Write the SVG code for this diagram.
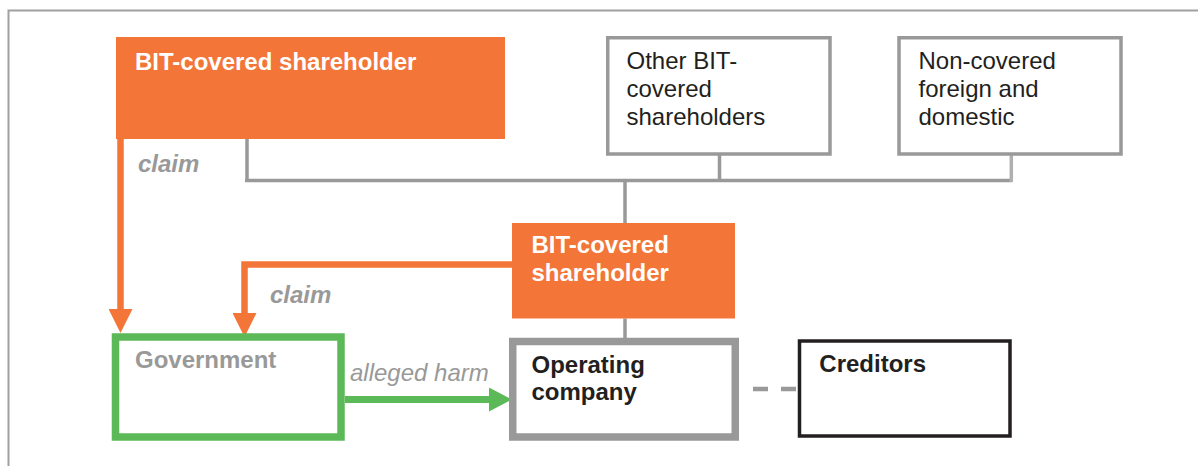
<svg xmlns="http://www.w3.org/2000/svg" width="1198" height="466" viewBox="0 0 1198 466">
  <defs>
    <style>
      text { font-family: "Liberation Sans", Arial, Helvetica, sans-serif; font-size: 24px; }
      .bold { font-weight: bold; }
      .white { fill: #ffffff; }
      .dark { fill: #231f20; }
      .gray { fill: #999999; }
      .orangeFill { fill: #f37537; }
      .grayBox { fill: #ffffff; stroke: #999999; stroke-width: 3.5; }
      .conn { fill: none; stroke: #999999; stroke-width: 3.5; }
      .orangeLine { fill: none; stroke: #f37537; stroke-width: 6.5; }
      .greenLine { fill: none; stroke: #5cb957; stroke-width: 7; }
    </style>
    <marker id="ahOrange" viewBox="0 0 24 24" markerWidth="24" markerHeight="24" markerUnits="userSpaceOnUse" refX="0" refY="12" orient="auto">
      <path d="M0,0 L24,12 L0,24 z" fill="#f37537"/>
    </marker>
    <marker id="ahGreen" viewBox="0 0 24 24" markerWidth="24" markerHeight="24" markerUnits="userSpaceOnUse" refX="0" refY="12" orient="auto">
      <path d="M0,0 L23,12 L0,24 z" fill="#5cb957"/>
    </marker>
  </defs>

  <rect width="1198" height="466" fill="#ffffff"/>
  <path d="M8.5,466 V10.5 H1198" fill="none" stroke="#a0a0a0" stroke-width="2"/>

  <g id="connectors">
    <path class="conn" d="M247,139 V180.5"/>
    <path class="conn" d="M245,180.5 H1012"/>
    <path class="conn" d="M719.5,155 V180.5"/>
    <path d="M1011.3,155 V182" fill="none" stroke="#b0b0b0" stroke-width="3.5"/>
    <path class="conn" d="M625,180.5 V223" stroke-width="3"/>
    <path class="conn" d="M625,318.5 V338" stroke-width="3"/>
    <path d="M753,389 H797" fill="none" stroke="#999999" stroke-width="4.5" stroke-dasharray="15,13"/>
    <path class="orangeLine" d="M120.5,139 V309" marker-end="url(#ahOrange)"/>
    <path class="orangeLine" d="M512,264.5 H244.5 V313" stroke-width="5.5" marker-end="url(#ahOrange)"/>
    <path class="greenLine" d="M345,399.5 H489" marker-end="url(#ahGreen)"/>
    <text class="gray bold" x="138" y="171.5" font-style="italic">claim</text>
    <text class="gray bold" x="270" y="302.5" font-style="italic">claim</text>
    <text class="gray" x="350" y="381" font-style="italic">alleged harm</text>
  </g>

  <g id="bit-shareholder-top">
    <rect class="orangeFill" x="116" y="37" width="389" height="102"/>
    <text class="white bold" x="135" y="70">BIT-covered shareholder</text>
  </g>

  <g id="other-bit-shareholders">
    <rect class="grayBox" x="607.75" y="37.75" width="222.25" height="116.25"/>
    <text class="dark" x="626.5" y="69">Other BIT-</text>
    <text class="dark" x="626.5" y="97">covered</text>
    <text class="dark" x="626.5" y="125">shareholders</text>
  </g>

  <g id="non-covered">
    <rect class="grayBox" x="899" y="37.75" width="222" height="116.25"/>
    <text class="dark" x="918.5" y="69">Non-covered</text>
    <text class="dark" x="918.5" y="97">foreign and</text>
    <text class="dark" x="918.5" y="125">domestic</text>
  </g>

  <g id="bit-shareholder-mid">
    <rect class="orangeFill" x="512" y="223" width="223" height="95.5"/>
    <text class="white bold" x="531.5" y="253.3">BIT-covered</text>
    <text class="white bold" x="531.5" y="281">shareholder</text>
  </g>

  <g id="government">
    <rect x="115.5" y="337" width="225.5" height="100" fill="#ffffff" stroke="#5cb957" stroke-width="7.5"/>
    <text class="gray bold" x="135" y="368.3">Government</text>
  </g>

  <g id="operating-company">
    <rect x="512.75" y="341.5" width="222.5" height="95.5" fill="#ffffff" stroke="#999999" stroke-width="7.5"/>
    <text class="dark bold" x="531.5" y="373.3">Operating</text>
    <text class="dark bold" x="531.5" y="400">company</text>
  </g>

  <g id="creditors">
    <rect x="799.5" y="341" width="210.5" height="95" fill="#ffffff" stroke="#231f20" stroke-width="3.5"/>
    <text class="dark bold" x="819.3" y="372.3">Creditors</text>
  </g>
</svg>
